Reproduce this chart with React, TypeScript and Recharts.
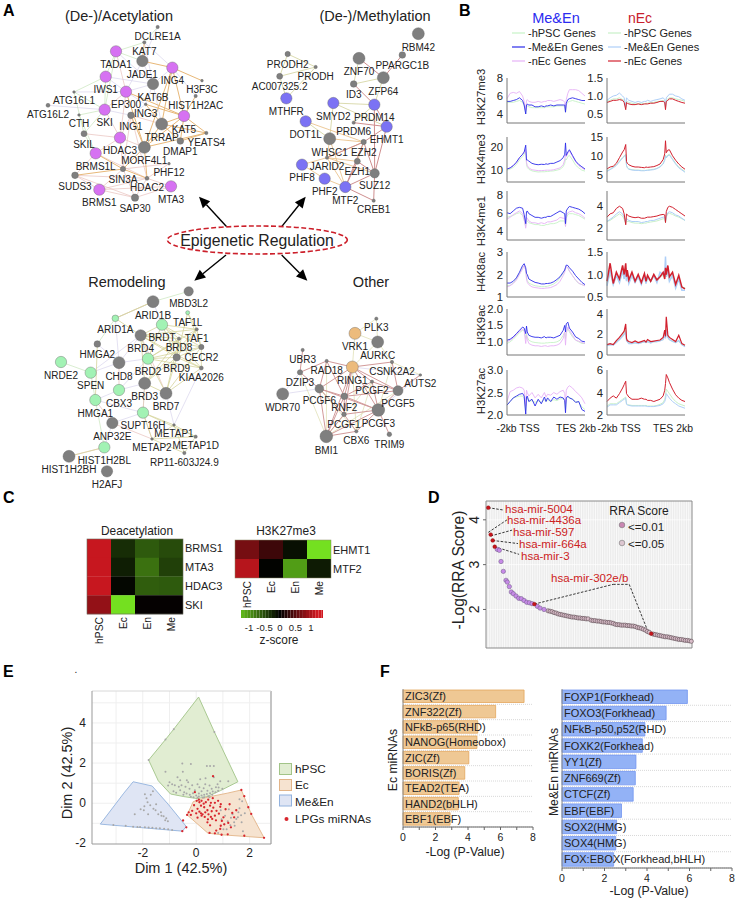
import React from 'react';
import {
    Bar,
    BarChart,
    CartesianGrid,
    Cell,
    LabelList,
    Line,
    LineChart,
    ReferenceArea,
    ReferenceDot,
    ReferenceLine,
    Scatter,
    ScatterChart,
    XAxis,
    YAxis,
} from 'recharts';

const sans = '"Liberation Sans", Arial, sans-serif';

// ---- panel A: networks, layout units of the picture, [name, x, y, weight, group]
type NetNode = [string, number, number, number, string];

const acetNodes: NetNode[] = [
    ['DCLRE1A', 473, 81, 5, 's'], ['KAT7', 433, 127, 5, 's'], ['TADA1', 348, 154, 17, 'm'], ['JADE1', 427, 183, 17, 'g'],
    ['ING4', 517, 203, 17, 'm'], ['KAT6B', 459, 252, 17, 'g'], ['H3F3C', 606, 242, 4, 's'], ['IWS1', 317, 230, 17, 'm'],
    ['EP300', 378, 275, 17, 'm'], ['HIST1H2AC', 587, 288, 5, 's'], ['ATG16L1', 222, 276, 4, 's'], ['ATG16L2', 144, 316, 6, 's'],
    ['SKI', 314, 329, 17, 'm'], ['ING3', 437, 313, 4, 's'], ['CTH', 237, 345, 4, 's'], ['ING1', 393, 346, 10, 'g'],
    ['KAT5', 552, 348, 17, 'm'], ['TRRAP', 485, 372, 18, 'g'], ['YEATS4', 619, 399, 5, 's'], ['SKIL', 252, 401, 9, 'g'],
    ['HDAC3', 360, 413, 17, 'm'], ['DMAP1', 541, 423, 10, 'g'], ['MORF4L1', 433, 442, 18, 'g'], ['BRMS1L', 287, 460, 17, 'm'],
    ['PHF12', 507, 491, 4, 's'], ['SIN3A', 369, 507, 8, 's'], ['SUDS3', 225, 526, 10, 'g'], ['HDAC2', 441, 535, 6, 's'],
    ['BRMS1', 298, 569, 17, 'm'], ['MTA3', 513, 559, 17, 'm'], ['SAP30', 405, 593, 11, 'g'],
];
const methNodes: NetNode[] = [
    ['RBM42', 1255, 101, 18, 'g'], ['PPARGC1B', 1207, 165, 10, 'g'], ['ZNF70', 1077, 175, 18, 'g'], ['ZFP64', 1150, 233, 18, 'g'],
    ['PRODH2', 863, 162, 8, 'g'], ['PRODH', 947, 201, 5, 's'], ['AC007325.2', 839, 229, 9, 'g'], ['ID3', 1061, 252, 10, 'g'],
    ['MTHFR', 859, 295, 17, 'b'], ['SMYD2', 1000, 309, 17, 'b'], ['PRDM14', 1123, 314, 17, 'b'], ['DOT1L', 917, 364, 17, 'b'],
    ['EHMT1', 1160, 380, 17, 'b'], ['PRDM6', 1061, 368, 5, 's'], ['WHSC1', 989, 416, 18, 'g'], ['EZH2', 1091, 426, 8, 'g'],
    ['JARID2', 981, 473, 5, 's'], ['EZH1', 1072, 484, 9, 'g'], ['PHF8', 906, 494, 17, 'b'], ['SUZ12', 1124, 520, 14, 'g'],
    ['PHF2', 974, 536, 17, 'b'], ['MTF2', 1036, 561, 17, 'b'], ['CREB1', 1121, 602, 5, 's'],
];
const remodelNodes: NetNode[] = [
    ['MBD3L2', 566, 184, 14, 'g'], ['ARID1B', 459, 215, 18, 'g'], ['TAF1L', 563, 248, 6, 't'], ['ARID1A', 346, 265, 10, 't'],
    ['BRDT', 486, 284, 17, 't'], ['TAF1', 590, 298, 5, 's'], ['BRD4', 422, 316, 17, 'g'], ['BRD8', 537, 326, 5, 's'],
    ['HMGA2', 292, 342, 10, 'g'], ['CECR2', 604, 351, 8, 'g'], ['BRD2', 444, 386, 17, 't'], ['BRD9', 530, 382, 11, 'g'],
    ['CHD8', 357, 398, 18, 'g'], ['KIAA2026', 604, 414, 6, 's'], ['NRDE2', 183, 396, 17, 't'], ['SPEN', 272, 428, 17, 't'],
    ['BRD3', 434, 460, 18, 'g'], ['CBX3', 357, 480, 17, 't'], ['BRD7', 498, 490, 18, 'g'], ['HMGA1', 286, 510, 17, 't'],
    ['SUPT16H', 429, 548, 17, 't'], ['ANP32E', 337, 579, 17, 'g'], ['METAP1', 522, 585, 4, 's'], ['METAP1D', 587, 620, 5, 's'],
    ['METAP2', 456, 627, 4, 's'], ['HIST1H2BL', 313, 652, 17, 't'], ['RP11-603J24.9', 553, 669, 5, 's'], ['HIST1H2BH', 207, 679, 18, 'g'],
    ['H2AFJ', 321, 724, 17, 'g'],
];
const otherNodes: NetNode[] = [
    ['PLK3', 1129, 266, 5, 's'], ['VRK1', 1065, 310, 18, 'o'], ['AURKC', 1133, 336, 18, 'g'], ['UBR3', 908, 360, 5, 's'],
    ['RAD18', 980, 393, 5, 's'], ['CSNK2A2', 1176, 396, 5, 's'], ['RING1', 1057, 411, 18, 'o'], ['PCGF2', 1116, 455, 5, 's'],
    ['AUTS2', 1261, 435, 4, 's'], ['DZIP3', 900, 427, 8, 'g'], ['PCGF6', 958, 476, 13, 'g'], ['WDR70', 848, 492, 18, 'g'],
    ['PCGF5', 1194, 482, 15, 'g'], ['RNF2', 1033, 499, 10, 'g'], ['PCGF3', 1135, 540, 19, 'g'], ['PCGF1', 1032, 553, 7, 'g'],
    ['CBX6', 1069, 604, 5, 's'], ['TRIM9', 1168, 613, 7, 'g'], ['BMI1', 979, 619, 19, 'g'],
];

const acetOrange = ['ING4>TRRAP', 'ING4>MORF4L1', 'ING4>KAT5', 'TRRAP>KAT5', 'TRRAP>MORF4L1', 'MORF4L1>KAT5', 'MORF4L1>YEATS4', 'KAT5>YEATS4', 'DMAP1>YEATS4', 'MORF4L1>SIN3A', 'MORF4L1>HDAC2', 'SIN3A>HDAC2', 'BRMS1L>SIN3A', 'SUDS3>SIN3A', 'EP300>KAT5', 'ING3>TRRAP', 'ING3>KAT5', 'KAT5>DMAP1', 'TRRAP>DMAP1', 'ING4>JADE1', 'KAT7>JADE1', 'ING4>H3F3C', 'TRRAP>YEATS4', 'HIST1H2AC>KAT5', 'EP300>MORF4L1', 'ING1>MORF4L1'];
const acetPink = ['SUDS3>BRMS1', 'SUDS3>HDAC2', 'BRMS1>SIN3A', 'BRMS1>HDAC2', 'BRMS1>SAP30', 'SAP30>HDAC2', 'SAP30>SIN3A', 'SUDS3>SAP30', 'BRMS1L>HDAC2', 'BRMS1L>SUDS3', 'HDAC2>PHF12', 'SIN3A>PHF12', 'HDAC3>BRMS1L', 'HDAC3>SIN3A', 'HDAC3>MORF4L1', 'SKIL>HDAC3', 'SKI>HDAC3', 'MTA3>HDAC2', 'MTA3>SAP30', 'TADA1>EP300', 'ING1>HDAC3', 'ING1>SIN3A', 'ING1>HDAC2', 'ING1>TRRAP', 'EP300>SKI', 'EP300>HDAC3', 'BRMS1>MTA3'];
const acetGreen = ['TADA1>IWS1', 'TADA1>SKI', 'IWS1>ATG16L1', 'ATG16L1>SKI', 'SKI>CTH', 'SKIL>BRMS1L', 'CTH>BRMS1L', 'SKI>SKIL', 'TADA1>JADE1', 'KAT7>TADA1', 'DCLRE1A>KAT7', 'ATG16L1>SKIL', 'IWS1>SKI'];
const acetPurple = ['ATG16L1>EP300', 'ATG16L2>SKI', 'ING3>KAT6B', 'KAT7>KAT6B', 'TADA1>KAT6B', 'JADE1>EP300', 'JADE1>KAT6B', 'ING4>KAT6B', 'IWS1>EP300', 'IWS1>KAT6B', 'EP300>KAT6B', 'HIST1H2AC>ING4', 'EP300>ING3', 'ING3>ING1', 'SKI>ING1', 'DCLRE1A>JADE1', 'KAT7>ING4', 'KAT6B>TRRAP'];

const methOlive = ['PRODH2>PRODH', 'PRODH2>AC007325.2', 'PRODH>AC007325.2', 'PRODH>MTHFR', 'AC007325.2>MTHFR', 'ZNF70>ID3', 'ZFP64>ID3', 'SMYD2>PRDM14', 'SMYD2>EHMT1', 'SMYD2>WHSC1', 'DOT1L>WHSC1', 'PRDM14>PRDM6', 'ZFP64>PRDM14'];
const methRed = ['ZNF70>ZFP64', 'PPARGC1B>ZFP64', 'ID3>PRDM14', 'PRDM14>EHMT1', 'EHMT1>EZH2', 'EHMT1>SUZ12', 'EZH2>SUZ12', 'EZH2>MTF2', 'SUZ12>MTF2', 'SUZ12>CREB1', 'MTF2>CREB1', 'EZH1>SUZ12', 'EZH1>MTF2', 'PRDM14>SUZ12', 'EZH2>JARID2', 'PRDM6>EHMT1'];
const methOrange = ['JARID2>MTF2', 'JARID2>EZH2', 'JARID2>EZH1', 'JARID2>SUZ12', 'PHF2>MTF2', 'EZH1>EZH2', 'MTF2>WHSC1', 'WHSC1>EZH2', 'WHSC1>JARID2', 'PHF8>PHF2', 'PHF8>JARID2', 'DOT1L>EZH2'];

const remodelOlive = ['BRDT>BRD4', 'BRDT>TAF1', 'BRDT>BRD8', 'BRDT>BRD2', 'BRDT>BRD9', 'BRDT>CECR2', 'BRDT>KIAA2026', 'BRD4>BRD8', 'BRD4>BRD2', 'BRD4>BRD9', 'BRD4>CECR2', 'BRD4>BRD3', 'BRD4>TAF1', 'BRD4>KIAA2026', 'BRD2>BRD8', 'BRD2>BRD9', 'BRD2>TAF1', 'BRD2>CECR2', 'BRD2>KIAA2026', 'BRD2>BRD7', 'BRD9>BRD8', 'BRD9>TAF1', 'BRD9>CECR2', 'BRD9>KIAA2026', 'BRD9>BRD7', 'BRD9>BRD3', 'BRD3>BRD8', 'BRD3>TAF1', 'BRD3>BRD7', 'BRD7>BRD8', 'BRD7>KIAA2026', 'BRD7>CECR2', 'TAF1L>TAF1', 'TAF1L>CECR2', 'TAF1L>BRD9', 'TAF1>CECR2', 'CECR2>KIAA2026', 'ARID1A>ARID1B', 'ARID1A>BRD4', 'SUPT16H>METAP1', 'SUPT16H>METAP1D', 'SUPT16H>METAP2', 'METAP1>METAP1D', 'METAP2>METAP1D', 'METAP2>RP11-603J24.9', 'METAP1D>RP11-603J24.9', 'METAP1>METAP2', 'METAP1>RP11-603J24.9', 'HMGA2>HMGA1', 'HIST1H2BL>HIST1H2BH'];
const remodelPurple = ['ARID1A>CHD8', 'HMGA2>CHD8', 'CHD8>BRD4', 'CHD8>BRD2', 'SPEN>CHD8', 'CBX3>BRD2', 'CBX3>BRD3', 'HMGA1>CBX3', 'HMGA1>SUPT16H', 'ANP32E>SUPT16H', 'BRD7>METAP1', 'KIAA2026>METAP1', 'ARID1B>BRDT', 'SPEN>BRD4', 'ANP32E>HIST1H2BL'];
const remodelGreen = ['NRDE2>SPEN', 'ARID1B>MBD3L2', 'ARID1A>HMGA2', 'SPEN>HMGA1', 'HMGA1>HIST1H2BL', 'ARID1B>ARID1A', 'BRD3>SUPT16H'];
const remodelPink = ['ARID1A>ARID1B', 'ANP32E>HMGA1', 'SUPT16H>METAP2', 'BRD4>BRD7', 'HIST1H2BH>HIST1H2BL', 'ANP32E>METAP2', 'CHD8>CBX3', 'BRD3>SUPT16H'];

const otherRed = ['UBR3>DZIP3', 'RAD18>PCGF6', 'RAD18>DZIP3', 'DZIP3>PCGF6', 'PCGF6>RING1', 'PCGF6>RNF2', 'PCGF6>PCGF3', 'PCGF6>BMI1', 'RING1>RNF2', 'RING1>PCGF5', 'RING1>PCGF3', 'RING1>PCGF2', 'RING1>PCGF1', 'RNF2>PCGF5', 'RNF2>PCGF3', 'RNF2>PCGF2', 'RNF2>PCGF1', 'RNF2>BMI1', 'PCGF5>PCGF3', 'PCGF5>CSNK2A2', 'PCGF5>PCGF2', 'PCGF3>PCGF1', 'PCGF3>BMI1', 'PCGF3>PCGF2', 'PCGF3>CBX6', 'PCGF3>TRIM9', 'BMI1>PCGF1', 'BMI1>RING1', 'BMI1>CBX6', 'PCGF1>CBX6', 'RING1>CSNK2A2', 'PCGF5>AUTS2', 'RAD18>RING1', 'RAD18>RNF2', 'PCGF1>PCGF6'];
const otherOlive = ['VRK1>PLK3', 'VRK1>AURKC', 'PLK3>AURKC', 'VRK1>RING1', 'AURKC>CSNK2A2', 'AURKC>RING1', 'CSNK2A2>AUTS2', 'PCGF6>PCGF1', 'RING1>CBX6', 'DZIP3>BMI1', 'PCGF2>BMI1', 'PCGF2>CBX6', 'PCGF5>BMI1', 'CSNK2A2>PCGF3', 'RAD18>BMI1', 'PCGF6>CBX6'];
const otherPurple = ['WDR70>PCGF6', 'WDR70>DZIP3', 'AUTS2>PCGF3', 'AUTS2>RING1'];

const nodeFill: Record<string, string> = { m: '#d672f2', g: '#7f7f7f', s: '#7f7f7f', b: '#7b72f4', t: '#a2f2b4', o: '#ecbb7c' };

// ---- panel B: profile x positions in percent of the gene body plot
const profileX = [0, 4, 8, 12, 16, 20, 22, 24, 25, 26, 28, 32, 36, 40, 44, 48, 50, 52, 56, 60, 64, 68, 72, 74, 75, 76, 78, 80, 84, 88, 92, 96, 100];

const k27me3LeftMe = [5.4, 5.4, 5.5, 5.6, 5.8, 5.5, 5.0, 4.0, 5.0, 5.1, 5.0, 5.0, 4.8, 4.8, 4.9, 4.8, 4.9, 4.9, 5.0, 4.9, 5.0, 5.0, 5.0, 5.0, 4.2, 5.2, 5.6, 5.7, 5.8, 5.7, 5.6, 5.5, 5.5];
const k27me3LeftNec = [5.7, 6.3, 6.4, 6.3, 6.5, 6.0, 5.4, 4.4, 5.5, 5.6, 5.4, 5.3, 5.3, 5.4, 5.3, 5.4, 5.4, 5.5, 5.5, 5.4, 5.5, 5.6, 5.5, 5.3, 4.5, 5.6, 6.3, 6.7, 6.7, 6.7, 6.6, 6.3, 6.0];
const k27me3LeftPsc = [5.3, 5.3, 5.3, 5.4, 5.5, 5.3, 4.9, 4.1, 4.9, 4.9, 4.8, 4.7, 4.7, 4.7, 4.7, 4.7, 4.8, 4.8, 4.8, 4.8, 4.9, 4.9, 4.9, 4.8, 4.2, 5.0, 5.3, 5.4, 5.5, 5.4, 5.3, 5.2, 5.1];
const k27me3RightPsc = [0.85, 0.88, 0.92, 0.92, 0.95, 0.9, 0.88, 0.68, 0.85, 0.85, 0.82, 0.8, 0.78, 0.78, 0.8, 0.78, 0.8, 0.8, 0.82, 0.82, 0.85, 0.85, 0.88, 0.85, 0.65, 0.88, 0.92, 0.95, 0.95, 0.92, 0.9, 0.88, 0.85];
const k27me3RightMe = [0.88, 0.95, 1.0, 1.02, 1.08, 1.0, 0.95, 0.7, 0.95, 0.92, 0.88, 0.85, 0.82, 0.85, 0.82, 0.85, 0.85, 0.88, 0.85, 0.88, 0.9, 0.92, 0.95, 0.9, 0.7, 0.95, 1.0, 1.05, 1.05, 1.0, 0.98, 0.92, 0.88];
const k27me3RightNec = [0.82, 0.85, 0.88, 0.88, 0.9, 0.88, 0.82, 0.62, 0.82, 0.8, 0.78, 0.76, 0.76, 0.78, 0.76, 0.78, 0.78, 0.78, 0.8, 0.8, 0.82, 0.85, 0.85, 0.82, 0.62, 0.85, 0.88, 0.92, 0.92, 0.88, 0.85, 0.82, 0.8];

const k4me3LeftMe = [10.5, 11, 12, 13.5, 15.5, 17, 18, 21, 14.5, 14.5, 14, 13, 12.6, 12.4, 12.6, 12.5, 12.8, 12.6, 13, 13, 13.6, 14.2, 15.5, 17, 22, 16.5, 18, 19, 16.5, 14, 12.5, 11.5, 10.5];
const k4me3LeftNec = [10.5, 11, 12, 13.2, 15.5, 17, 18, 19, 13.5, 12, 11, 10.2, 10, 9.8, 9.8, 9.9, 10, 10, 10, 10.2, 10.6, 11, 12.4, 14.5, 17, 16, 17.5, 18.5, 16, 13.8, 12, 11, 10.2];
const k4me3LeftPsc = [10, 10.5, 11.2, 12.5, 14.5, 16, 17, 18, 12.5, 11.2, 10.4, 9.7, 9.4, 9.2, 9.3, 9.3, 9.4, 9.4, 9.6, 9.7, 10, 10.4, 11.5, 13, 15, 14.5, 16, 16.5, 14.5, 12.2, 11, 10, 9.6];
const k4me3RightNec = [6.5, 7, 7.2, 8, 9.5, 11, 11.6, 13, 8.5, 8, 7.6, 7.2, 7, 7, 6.9, 6.8, 7, 6.9, 7, 7.1, 7.4, 7.8, 9, 10.5, 14, 10.8, 11.5, 11.6, 10, 8.8, 7.8, 7, 6.4];
const k4me3RightMe = [5.8, 6.3, 6.8, 7.4, 8.4, 9.4, 9.8, 10.2, 7.4, 6.8, 6.4, 6.2, 6.1, 6.1, 6, 6, 6.1, 6.1, 6.2, 6.3, 6.6, 7, 7.8, 8.8, 10, 9.4, 10, 10.2, 9, 7.8, 6.8, 6.2, 5.6];
const k4me3RightPsc = [6, 6.4, 7, 7.6, 8.6, 9.6, 10, 10.4, 7.4, 6.9, 6.5, 6.3, 6.2, 6.2, 6.1, 6.1, 6.1, 6.2, 6.3, 6.4, 6.6, 7.1, 8, 9, 10.2, 9.6, 10.2, 10.4, 9.2, 8, 7, 6.4, 5.8];

const k4me1LeftMe = [6, 5.9, 6.2, 6.5, 6.6, 6.5, 5.8, 4.8, 6.1, 6.2, 5.9, 5.7, 5.5, 5.5, 5.4, 5.5, 5.5, 5.6, 5.6, 5.8, 6, 6.2, 6, 5.9, 4.8, 6.2, 6.5, 6.7, 6.6, 6.5, 6.4, 6.2, 5.9];
const k4me1LeftNec = [5.3, 5.5, 5.8, 6, 6.2, 5.9, 5.3, 4.3, 5.5, 5.4, 5.1, 4.9, 4.9, 4.8, 4.9, 4.8, 4.9, 5, 5, 5.1, 5.2, 5.5, 5.4, 5.4, 4.5, 5.7, 6, 6.1, 6.2, 6, 5.9, 5.7, 5.4];
const k4me1LeftPsc = [5.5, 5.6, 5.7, 5.9, 6, 5.7, 5.2, 4.5, 5.2, 5.1, 4.9, 4.8, 4.7, 4.7, 4.6, 4.6, 4.7, 4.7, 4.8, 4.8, 4.9, 5.1, 5.1, 5.1, 4.5, 5.4, 5.8, 5.9, 5.9, 5.8, 5.7, 5.5, 5.3];
const k4me1RightNec = [3, 3.3, 3.4, 3.8, 4, 3.8, 3.3, 2.3, 3.3, 3.2, 3.1, 3, 2.95, 3, 2.9, 2.9, 2.95, 3, 3, 3.05, 3.1, 3.2, 3.25, 3.2, 2.5, 3.5, 3.9, 4, 3.9, 3.7, 3.5, 3.3, 3.1];
const k4me1RightMe = [2.6, 2.8, 3, 3.3, 3.5, 3.3, 3, 2.5, 2.9, 2.8, 2.7, 2.6, 2.6, 2.6, 2.5, 2.55, 2.6, 2.6, 2.7, 2.7, 2.8, 2.9, 3, 3, 2.6, 3.1, 3.4, 3.5, 3.4, 3.2, 3.1, 2.9, 2.7];
const k4me1RightPsc = [2.6, 2.7, 2.9, 3.1, 3.3, 3.1, 2.8, 2.4, 2.7, 2.6, 2.6, 2.5, 2.45, 2.45, 2.4, 2.45, 2.45, 2.5, 2.55, 2.6, 2.65, 2.75, 2.85, 2.85, 2.5, 3, 3.3, 3.35, 3.25, 3.1, 3, 2.85, 2.7];

const k8acLeftMe = [1.62, 1.62, 1.7, 1.85, 2.1, 2.4, 2.48, 2.3, 2.05, 2, 1.8, 1.72, 1.65, 1.62, 1.58, 1.58, 1.6, 1.6, 1.62, 1.68, 1.78, 1.9, 2.1, 2.2, 2.32, 2.42, 2.4, 2.3, 2.15, 1.95, 1.8, 1.65, 1.55];
const k8acLeftNec = [1.45, 1.5, 1.6, 1.75, 2, 2.25, 2.4, 2.2, 1.8, 1.65, 1.55, 1.45, 1.42, 1.4, 1.38, 1.38, 1.4, 1.4, 1.42, 1.48, 1.55, 1.7, 1.95, 2.1, 2.25, 2.35, 2.3, 2.15, 1.95, 1.75, 1.62, 1.55, 1.5];
const k8acLeftPsc = [1.5, 1.52, 1.62, 1.8, 2.05, 2.3, 2.4, 2.2, 1.85, 1.72, 1.62, 1.55, 1.5, 1.48, 1.46, 1.46, 1.47, 1.48, 1.52, 1.58, 1.68, 1.85, 2.05, 2.2, 2.3, 2.35, 2.3, 2.15, 1.95, 1.75, 1.6, 1.55, 1.5];
const k8acRightNec = [0.85, 1.25, 0.8, 1.05, 0.9, 1.2, 1, 1.25, 0.95, 1.1, 0.88, 1.05, 0.85, 1.0, 0.82, 1.02, 0.85, 0.98, 0.85, 1.0, 0.88, 0.95, 1.05, 0.9, 1.15, 1.0, 1.2, 0.95, 1.05, 0.78, 0.98, 0.72, 0.68];
const k8acRightMe = [0.75, 1.1, 0.78, 0.98, 0.82, 1.1, 0.9, 1.15, 0.85, 1.05, 0.8, 0.98, 0.82, 0.95, 0.78, 0.98, 0.8, 0.95, 0.85, 0.98, 0.82, 1.05, 1.0, 1.0, 1.4, 0.95, 1.15, 0.85, 0.98, 0.7, 0.9, 0.65, 0.65];
const k8acRightPsc = [0.8, 1.05, 0.8, 0.98, 0.85, 1.05, 0.92, 1.1, 0.88, 1.0, 0.84, 0.96, 0.84, 0.94, 0.82, 0.95, 0.84, 0.93, 0.85, 0.96, 0.86, 0.96, 0.98, 0.95, 1.1, 0.95, 1.05, 0.88, 0.98, 0.76, 0.9, 0.72, 0.7];

const k9acLeftMe = [1.05, 1.08, 1.15, 1.25, 1.35, 1.45, 1.42, 1.25, 1.48, 1.3, 1.2, 1.16, 1.14, 1.14, 1.12, 1.16, 1.12, 1.14, 1.14, 1.12, 1.16, 1.2, 1.35, 1.5, 1.3, 1.55, 1.6, 1.42, 1.3, 1.15, 1.1, 1.02, 1.0];
const k9acLeftNec = [1.0, 1.05, 1.12, 1.22, 1.32, 1.38, 1.35, 0.95, 1.2, 1.08, 0.95, 0.9, 0.88, 0.88, 0.86, 0.88, 0.88, 0.86, 0.88, 0.88, 0.9, 0.95, 1.1, 1.3, 0.9, 1.25, 1.45, 1.35, 1.2, 1.05, 1.02, 0.98, 0.95];
const k9acLeftPsc = [0.95, 1.0, 1.08, 1.18, 1.28, 1.35, 1.35, 1.1, 1.25, 1.15, 1.05, 1, 0.98, 0.97, 0.96, 0.96, 0.97, 0.97, 0.98, 0.98, 1, 1.05, 1.2, 1.3, 1.1, 1.3, 1.4, 1.3, 1.15, 1.05, 1, 0.95, 0.95];
const k9acRightNec = [1.0, 1.1, 1.0, 1.4, 1.7, 2.1, 2.3, 3.0, 1.6, 1.4, 1.3, 1.2, 1.35, 1.2, 1.3, 1.4, 1.25, 1.5, 1.3, 1.35, 1.4, 1.45, 1.7, 2.4, 1.8, 3.7, 1.9, 1.7, 1.5, 1.3, 1.9, 1.1, 0.95];
const k9acRightMe = [0.9, 1, 0.95, 1.2, 1.5, 1.8, 2, 2.2, 1.4, 1.3, 1.1, 1.1, 1.2, 1.1, 1.2, 1.3, 1.2, 1.3, 1.15, 1.3, 1.3, 1.35, 1.5, 1.9, 1.6, 2.4, 1.7, 1.5, 1.3, 1.2, 1.4, 1, 0.8];
const k9acRightPsc = [0.95, 1, 1, 1.3, 1.5, 1.9, 2.1, 2.4, 1.5, 1.3, 1.2, 1.15, 1.2, 1.15, 1.2, 1.3, 1.2, 1.3, 1.2, 1.3, 1.3, 1.4, 1.5, 2, 1.7, 2.5, 1.8, 1.5, 1.35, 1.2, 1.4, 1, 0.9];

const k27acLeftMe = [2.22, 2.3, 2.38, 2.42, 2.46, 2.48, 2.42, 2.02, 2.4, 2.42, 2.3, 2.35, 2.2, 2.35, 2.25, 2.4, 2.3, 2.38, 2.3, 2.4, 2.35, 2.4, 2.38, 2.32, 2.05, 2.38, 2.42, 2.38, 2.35, 2.28, 2.3, 2.12, 2.08];
const k27acLeftNec = [2.3, 2.52, 2.55, 2.6, 2.62, 2.6, 2.55, 2.2, 2.55, 2.5, 2.42, 2.5, 2.38, 2.46, 2.38, 2.5, 2.4, 2.46, 2.44, 2.5, 2.46, 2.52, 2.55, 2.48, 2.25, 2.55, 2.62, 2.65, 2.6, 2.52, 2.46, 2.38, 2.25];
const k27acLeftPsc = [2.22, 2.3, 2.38, 2.4, 2.42, 2.42, 2.38, 2.1, 2.36, 2.38, 2.3, 2.32, 2.28, 2.32, 2.28, 2.34, 2.3, 2.34, 2.3, 2.34, 2.32, 2.36, 2.36, 2.32, 2.12, 2.36, 2.4, 2.38, 2.36, 2.3, 2.28, 2.18, 2.12];
const k27acRightNec = [3.2, 3.5, 3.7, 3.5, 3.9, 4.4, 4.7, 5.0, 3.9, 3.8, 3.6, 3.4, 3.4, 3.4, 3.5, 3.4, 3.4, 3.3, 3.3, 3.2, 3.3, 3.4, 3.7, 4.2, 4.8, 5.6, 5.3, 4.9, 4.3, 3.8, 3.5, 3.3, 3.2];
const k27acRightPsc = [2.8, 3, 3, 3, 3.2, 3.4, 3.5, 3.6, 3, 2.95, 2.9, 2.85, 2.85, 2.85, 2.85, 2.85, 2.85, 2.8, 2.8, 2.8, 2.85, 2.95, 3.1, 3.4, 3.7, 4.3, 4.1, 3.9, 3.5, 3.2, 3, 2.9, 2.8];
const k27acRightMe = [2.7, 2.9, 2.9, 2.9, 3.1, 3.3, 3.4, 3.5, 2.95, 2.9, 2.85, 2.8, 2.8, 2.8, 2.8, 2.8, 2.8, 2.75, 2.75, 2.75, 2.8, 2.85, 3, 3.2, 3.4, 3.9, 3.7, 3.5, 3.2, 3, 2.8, 2.7, 2.6];

// ---- panel C
const heatColumns = ['hPSC', 'Ec', 'En', 'Me'];
const deacetGenes = ['BRMS1', 'MTA3', 'HDAC3', 'SKI'];
const deacetZ = [
    [1.15, -0.3, -0.6, -0.5],
    [1.15, -0.2, -0.76, -0.43],
    [1.15, -0.05, -0.62, -0.6],
    [0.85, -1.5, 0.03, 0.03],
];
const k27Genes = ['EHMT1', 'MTF2'];
const k27Z = [
    [0.68, 0.35, -0.1, -1.5],
    [1.05, -0.02, -1.05, -0.18],
];
const scaleTicks = [-1, -0.5, 0, 0.5, 1];
const scaleSteps = [-1.26, -1.16, -1.06, -0.96, -0.86, -0.76, -0.66, -0.56, -0.46, -0.36, -0.26, -0.16, -0.06, 0.04, 0.14, 0.24, 0.34, 0.44, 0.54, 0.64, 0.74, 0.84, 0.94, 1.04, 1.14, 1.24, 1.34];

// ---- panel D
const rraRankHigh = [11.3, 13.3, 15, 17.3, 20, 21.3, 23.3, 25.3, 27.3, 30, 32.7, 35.3, 38, 40.7, 43.3, 46, 51.3, 54, 58];
const rraScoreHigh = [3.34, 3.32, 3.07, 2.85, 2.65, 2.61, 2.51, 2.39, 2.35, 2.3, 2.25, 2.24, 2.2, 2.16, 2.15, 2.13, 2.07, 2.03, 2.0];
const rraRankLow = [62, 64, 66, 68, 70, 72, 74, 76, 78, 80, 82, 84, 86, 88, 90, 92, 94, 96, 98, 100, 102, 105, 107, 109, 111, 113, 115, 117, 119, 121, 123, 125, 127, 129, 131, 133, 135, 137, 139, 141, 143, 145, 147, 149, 151, 153, 155, 157, 159, 161, 163, 167, 169, 171, 173, 175, 177, 179, 181, 183, 185, 187, 189, 191, 193, 195, 197, 199, 201, 203, 205];
const rraScoreLow = [1.97, 1.96, 1.95, 1.93, 1.92, 1.9, 1.89, 1.88, 1.87, 1.86, 1.85, 1.84, 1.83, 1.83, 1.82, 1.81, 1.81, 1.8, 1.8, 1.79, 1.79, 1.76, 1.75, 1.75, 1.74, 1.74, 1.73, 1.72, 1.72, 1.71, 1.71, 1.7, 1.69, 1.67, 1.66, 1.66, 1.65, 1.65, 1.65, 1.64, 1.64, 1.63, 1.63, 1.62, 1.6, 1.59, 1.58, 1.56, 1.54, 1.51, 1.49, 1.45, 1.44, 1.43, 1.42, 1.41, 1.4, 1.39, 1.39, 1.38, 1.37, 1.36, 1.35, 1.34, 1.33, 1.33, 1.32, 1.31, 1.31, 1.3, 1.29];
const rraRankHit = [2.3, 4.7, 6.7, 8.7, 48.3, 165];
const rraScoreHit = [4.27, 3.67, 3.54, 3.4, 2.12, 1.46];
const rraLeaders = [
    [2.3, 4.27, 17, 4.22],
    [2.3, 3.72, 21, 4.0],
    [4.7, 3.64, 26, 3.77],
    [6.7, 3.54, 32, 3.47],
    [8.7, 3.4, 33, 3.23],
    [48.3, 2.12, 127, 2.56],
    [127, 2.56, 143, 2.56],
    [143, 2.56, 161, 1.55],
];

// ---- panel E
const hpscHullX = [0.09, 0.68, 1.56, 0.91, 0.41, 0.04, -0.46, -0.96, -1.42, -1.78, -1.15, -0.84, 0.09];
const hpscHullY = [5.29, 3.55, 1.07, 0.63, 0.33, 0.23, 0.33, 0.46, 1.12, 2.15, 3.17, 3.69, 5.29];
const ecHullX = [1.69, 2.06, 2.54, 0.94, 0.44, -0.34, -0.11, 0.41, 1.16, 1.69];
const ecHullY = [0.66, -0.53, -1.72, -1.57, -1.49, -0.58, 0.08, 0.3, 0.5, 0.66];
const meHullX = [-2.36, -1.65, -1.03, -0.37, -0.52, -1.84, -3.59, -2.71, -2.36];
const meHullY = [1.07, 0.86, -0.08, -1.16, -1.39, -1.24, -1.04, 0.5, 1.07];

const grayDim1 = [
    -0.52, -0.2, -0.5, -1.15, 0.4, 0.52, 0.66, 0.9, 1.2, -0.9, -0.8, -0.7, -0.6, -0.55, -0.45, -0.4, -0.35, -0.25, -0.15, -0.05, 0.05, 0.12, 0.2, 0.28, 0.34, 0.42, 0.5, 0.58, 0.66, 0.74, 0.82,
    -1.0, -0.75, -0.6, -0.48, -0.36, -0.24, -0.12, 0, 0.1, 0.2, 0.3, 0.4, 0.52, 0.62, 0.72, 0.84, 0.98, -1.05, -0.3, 0.15, 0.35, -0.1, 0.25, 0.45, 0.05, -0.2, 0.6, 0.8, 0.1, 0.3, 0.5, -0.85, -0.65,
    -1.15, -0.84, 0.68, -1.78,
    -1.92, -1.86, -1.82, -1.7, -1.62, -2.08, -1.94, -1.8, -1.72, -1.6, -1.5, -1.42, -1.32, -1.22, -1.12, -1.06, -2.3, -1.96, -1.52, -1.3, -1.16, -2.64, -2.36, -2.2, -2.1, -1.92, -1.78, -1.64, -1.5, -1.36, -1.2, -1.05, -0.9, -3.1,
    0.82, 0.95, 1.08, 1.22, 1.36, 1.5, 1.62, 1.72, 1.42, 1.56, 1.7, 1.82, 0.92, 1.05, 1.18, 1.3, 1.44, 1.58, 1.68, 1.02, 1.14, 1.28, 1.62, 1.75,
];
const grayDim2 = [
    1.98, 1.95, 1.57, 1.57, 1.85, 1.85, 1.85, 1.1, 1.1, 0.95, 0.9, 1.3, 1.15, 0.9, 0.55, 0.82, 1.15, 0.72, 0.9, 0.65, 0.95, 0.8, 0.6, 0.75, 0.95, 0.62, 0.88, 0.72, 1.3, 0.8, 0.62,
    1.05, 0.52, 0.65, 0.42, 0.48, 0.42, 0.5, 0.38, 0.48, 0.38, 0.42, 0.46, 0.5, 0.58, 0.55, 0.78, 0.72, 0.88, 1.05, 1.2, 1.25, 0.3, 0.28, 0.35, 0.28, 0.32, 0.42, 0.95, 0.34, 0.3, 0.3, 0.6, 0.82,
    3.17, 3.69, 3.55, 2.15,
    0.45, 0.25, 0.05, 0.42, 0.6, -0.3, -0.15, -0.55, -0.1, -0.28, -0.05, -0.55, -0.45, -0.65, -0.75, -0.9, -0.55, -0.35, -0.35, -0.62, -0.85, -1.12, -1.17, -1.18, -1.18, -1.2, -1.21, -1.22, -1.24, -1.25, -1.27, -1.3, -1.33, -1.08,
    -1.48, -0.8, -0.62, -0.3, -0.55, -0.78, -0.25, 0.1, -0.95, -0.7, -0.95, -0.5, -0.35, -1.05, -0.9, -0.72, -1.12, -0.45, -0.6, -1.3, -1.3, -1.1, 0.2, -1.4,
];
const redDim1 = [
    0.63, -0.05, 0.02, 0.12, 0.2, 0.28, 0.36, 0.45, 0.55, 0.62, 0.7, 0.82, 0.92, -0.08, 0.05, 0.18, 0.3, 0.42, 0.52, 0.64, 0.76, 0.9, 1.1, 1.25, -0.15, 0, 0.12, 0.24, 0.34, 0.46, 0.58, 0.7, 0.85, 1.02, 1.35, -0.2, 0.05, 0.2, 0.32, 0.44, 0.6, 0.74, 0.96, 1.2, -0.28, 0.18, 0.42, 0.55, 0.92, 1.05, 1.42, 0.1, 0.52, 1.3, 1.5,
    -0.49, -0.37, -0.52, 2.54, 2.06, 1.69, 1.8, 1.95, 0.5, 0.7, 0.95, 1.18, 1.8, -0.34, 0.9, 0.75,
];
const redDim2 = [
    1.35, 0.55, 0.12, 0.05, 0.12, -0.02, 0.05, 0.18, 0.02, 0.25, 0.02, 0.12, -0.05, -0.1, -0.28, -0.12, -0.2, -0.35, -0.12, -0.22, -0.38, -0.18, -0.3, -0.05, -0.38, -0.5, -0.42, -0.55, -0.45, -0.55, -0.4, -0.62, -0.52, -0.7, -0.48, -0.58, -0.72, -0.62, -0.68, -0.8, -0.78, -0.85, -0.88, -0.98, -0.45, -0.5, -0.95, -0.68, -1.12, -1.05, -0.7, 0.18, -1.1, -1.2, -0.35,
    -0.86, -1.2, -1.39, -1.72, -0.53, 0.66, 0.35, -0.2, -1.48, -1.5, -1.57, -1.55, -1.62, -0.58, -1.28, -1.36,
];

// ---- panel F
const ecTfNames = ['ZIC3(Zf)', 'ZNF322(Zf)', 'NFkB-p65(RHD)', 'NANOG(Homeobox)', 'ZIC(Zf)', 'BORIS(Zf)', 'TEAD2(TEA)', 'HAND2(bHLH)', 'EBF1(EBF)'];
const ecTfValues = [7.45, 5.7, 4.6, 4.55, 4.05, 3.8, 3.45, 3.4, 2.9];
const meTfNames = ['FOXP1(Forkhead)', 'FOXO3(Forkhead)', 'NFkB-p50,p52(RHD)', 'FOXK2(Forkhead)', 'YY1(Zf)', 'ZNF669(Zf)', 'CTCF(Zf)', 'EBF(EBF)', 'SOX2(HMG)', 'SOX4(HMG)', 'FOX:EBOX(Forkhead,bHLH)'];
const meTfValues = [5.9, 4.9, 3.9, 3.78, 3.48, 3.45, 3.35, 2.8, 2.57, 2.53, 2.43];
const pValueTicks = [0, 1, 2, 3, 4, 5, 6, 7, 8];

const zip = (xs: number[], ys: number[]) => xs.map((x, i) => ({ x, y: ys[i] }));

const zColor = (z: number) => {
    const t = Math.min(Math.abs(z) / (z >= 0 ? 1.2 : 1.5), 1);
    const c = z >= 0 ? [208, 24, 32] : [116, 224, 32];
    return `rgb(${c.map((v) => Math.round(v * t)).join(',')})`;
};

const T = ({ x, y, size = 10, anchor = 'middle', fill = '#222', rotate, weight, children }: any) => (
    <text
        x={x}
        y={y}
        fontSize={size}
        fontFamily={sans}
        fontWeight={weight}
        textAnchor={anchor}
        dominantBaseline="central"
        fill={fill}
        transform={rotate ? `rotate(${rotate} ${x} ${y})` : undefined}
    >
        {children}
    </text>
);

const box = (left: number, top: number): React.CSSProperties => ({ position: 'absolute', left, top });

type EdgeGroup = { edges: string[]; stroke: string; width: number };

const edgeLines = (nodes: NetNode[], groups: EdgeGroup[]) => {
    const at = new Map(nodes.map((n) => [n[0], n]));
    return groups.flatMap((g, gi) =>
        g.edges.map((e, i) => {
            const [a, b] = e.split('>');
            const p = at.get(a)!;
            const q = at.get(b)!;
            return (
                <ReferenceLine
                    key={`${gi}-${i}-${e}`}
                    segment={[{ x: p[1], y: p[2] }, { x: q[1], y: q[2] }]}
                    stroke={g.stroke}
                    strokeWidth={g.width}
                    ifOverflow="visible"
                />
            );
        }),
    );
};

const arrowShape = (p: any) => {
    const { x1, y1, x2, y2 } = p;
    const a = Math.atan2(y2 - y1, x2 - x1);
    const len = 11;
    const w = 5;
    const bx = x2 - len * Math.cos(a);
    const by = y2 - len * Math.sin(a);
    const px = -Math.sin(a) * w;
    const py = Math.cos(a) * w;
    return (
        <g>
            <line x1={x1} y1={y1} x2={bx} y2={by} stroke="#000" strokeWidth={1.4} />
            <polygon points={`${x2},${y2} ${bx + px},${by + py} ${bx - px},${by - py}`} fill="#000" />
        </g>
    );
};

const nodeShape = (p: any) => {
    const d = p.payload;
    return <circle cx={p.cx} cy={p.cy} r={d.r / 3} fill={nodeFill[d.group]} stroke="#666" strokeWidth={0.4} />;
};
const nodeLabel = (p: any) => {
    const d = p.payload;
    return <T x={p.cx} y={p.cy + d.r / 3 + 7.5} size={10}>{d.name}</T>;
};

const NetworkChart = ({ nodes, groups, top, height, yMin, yMax, children }: any) => {
    const data = nodes.map((n: NetNode) => ({ name: n[0], x: n[1], y: n[2], r: n[3], group: n[4] }));
    return (
        <div style={box(0, top)}>
            <ScatterChart width={450} height={height} margin={{ top: 0, right: 0, bottom: 0, left: 0 }}>
                <XAxis type="number" dataKey="x" domain={[0, 1350]} hide />
                <YAxis type="number" dataKey="y" domain={[yMin, yMax]} reversed hide />
                {edgeLines(nodes, groups)}
                <Scatter data={data} shape={nodeShape} isAnimationActive={false} />
                <Scatter data={data} shape={nodeLabel} isAnimationActive={false} />
                {children}
            </ScatterChart>
        </div>
    );
};

// one small profile plot of panel B
const Profile = ({ left, top, w, h, domain, ticks, series }: any) => {
    const data = profileX.map((x, i) => {
        const row: Record<string, number> = { x };
        series.forEach((s: any, k: number) => {
            row[`s${k}`] = s.values[i];
        });
        return row;
    });
    const decimals = ticks.some((t: number) => t % 1 !== 0);
    return (
        <div style={box(left - 24, top - 6)}>
            <LineChart width={w + 26} height={h + 12} data={data} margin={{ top: 6, right: 2, bottom: 0, left: 0 }}>
                <XAxis
                    type="number"
                    dataKey="x"
                    domain={[0, 100]}
                    ticks={[24, 50, 76]}
                    tick={false}
                    tickSize={2}
                    height={6}
                    stroke="#777"
                />
                <YAxis
                    type="number"
                    domain={domain}
                    ticks={ticks}
                    width={24}
                    allowDataOverflow
                    tickLine={false}
                    tickSize={0}
                    tickMargin={0}
                    stroke="#777"
                    interval={0}
                    tick={(p: any) => (
                        <T x={p.x - 4} y={p.y} size={11.3} anchor="end">
                            {decimals ? p.payload.value.toFixed(1) : p.payload.value}
                        </T>
                    )}
                />
                {series.map((s: any, k: number) => (
                    <Line
                        key={k}
                        dataKey={`s${k}`}
                        stroke={s.color}
                        strokeWidth={s.width ?? 0.9}
                        dot={false}
                        isAnimationActive={false}
                    />
                ))}
            </LineChart>
        </div>
    );
};

const pscL = '#c6f3c6';
const meL = '#2b2bea';
const necL = '#e6b2f6';
const pscR = '#c8f0c8';
const meR = '#aecff8';
const necR = '#d2202e';

const leftSeries = (psc: number[], nec: number[], me: number[]) => [
    { values: psc, color: pscL },
    { values: nec, color: necL },
    { values: me, color: meL },
];
const rightSeries = (psc: number[], me: number[], nec: number[], width = 1) => [
    { values: psc, color: pscR, width },
    { values: me, color: meR, width },
    { values: nec, color: necR, width },
];

const profileRows = [
    { name: 'H3K27me3', top: 78, h: 45, labelY: 97, ld: [3, 8], lt: [4, 6, 8], l: leftSeries(k27me3LeftPsc, k27me3LeftNec, k27me3LeftMe), rd: [0.25, 1.5], rt: [0.5, 1.0, 1.5], r: rightSeries(k27me3RightPsc, k27me3RightMe, k27me3RightNec) },
    { name: 'H3K4me3', top: 137, h: 45, labelY: 159, ld: [4.8, 24.6], lt: [10, 20], l: leftSeries(k4me3LeftPsc, k4me3LeftNec, k4me3LeftMe), rd: [3, 15], rt: [5, 10, 15], r: rightSeries(k4me3RightPsc, k4me3RightMe, k4me3RightNec) },
    { name: 'H3K4me1', top: 191, h: 49, labelY: 221, ld: [3, 8.4], lt: [4, 6, 8], l: leftSeries(k4me1LeftPsc, k4me1LeftNec, k4me1LeftMe), rd: [0.9, 5.4], rt: [2, 4], r: rightSeries(k4me1RightPsc, k4me1RightMe, k4me1RightNec) },
    { name: 'H4K8ac', top: 252, h: 45, labelY: 272, ld: [1, 3], lt: [1, 2, 3], l: leftSeries(k8acLeftPsc, k8acLeftNec, k8acLeftMe), rd: [0.5, 1.5], rt: [0.5, 1.0, 1.5], r: rightSeries(k8acRightPsc, k8acRightMe, k8acRightNec, 1.5) },
    { name: 'H3K9ac', top: 309, h: 46, labelY: 325, ld: [0.6, 2], lt: [1.0, 1.5, 2.0], l: leftSeries(k9acLeftPsc, k9acLeftNec, k9acLeftMe), rd: [0, 4.45], rt: [0, 2, 4], r: rightSeries(k9acRightPsc, k9acRightMe, k9acRightNec, 1.2) },
    { name: 'H3K27ac', top: 370, h: 45, labelY: 391, ld: [2, 3], lt: [2.0, 2.5, 3.0], l: leftSeries(k27acLeftPsc, k27acLeftNec, k27acLeftMe), rd: [2, 6], rt: [2, 4, 6], r: rightSeries(k27acRightPsc, k27acRightMe, k27acRightNec) },
];

// heat map drawn as stacked unit bars
const Heat = ({ left: x, top, h, genes, z }: any) => {
    const rows = genes.map((gene: string) => ({ gene, hPSC: 1, Ec: 1, En: 1, Me: 1 }));
    return (
        <div style={box(x, top)}>
            <BarChart
                layout="vertical"
                width={96 + 50}
                height={h + 34}
                data={rows}
                barCategoryGap={0}
                margin={{ top: 0, right: 0, bottom: 0, left: 0 }}
            >
                <XAxis
                    type="number"
                    domain={[0, 4]}
                    ticks={[0.5, 1.5, 2.5, 3.5]}
                    height={34}
                    axisLine={false}
                    tickLine={false}
                    tickSize={0}
                    tickMargin={0}
                    interval={0}
                    tick={(p: any) => (
                        <T x={p.x} y={p.y + 3} size={10.3} rotate={-90} anchor="end">
                            {heatColumns[Math.floor(p.payload.value)]}
                        </T>
                    )}
                />
                <YAxis
                    type="category"
                    dataKey="gene"
                    orientation="right"
                    width={50}
                    axisLine={false}
                    tickLine={false}
                    tickSize={0}
                    tickMargin={0}
                    interval={0}
                    tick={(p: any) => <T x={p.x + 2} y={p.y} size={11} anchor="start">{p.payload.value}</T>}
                />
                {heatColumns.map((col, j) => (
                    <Bar key={col} dataKey={col} stackId="heat" isAnimationActive={false}>
                        {genes.map((g: string, i: number) => (
                            <Cell key={g} fill={zColor(z[i][j])} />
                        ))}
                    </Bar>
                ))}
            </BarChart>
        </div>
    );
};

// bars of panel F
const TfBars = ({ left: x, top, w, h, names, values, fill, stroke, barSize }: any) => {
    const data = names.map((name: string, i: number) => ({ name, value: values[i] }));
    return (
        <div style={box(x - 5, top)}>
            <BarChart
                layout="vertical"
                width={w + 5 + 8}
                height={h + 24}
                data={data}
                barSize={barSize}
                margin={{ top: 0, right: 8, bottom: 0, left: 0 }}
            >
                <CartesianGrid
                    vertical={false}
                    stroke="#d8d8d8"
                    strokeDasharray="1 1"
                    horizontalCoordinatesGenerator={() => names.map((_: string, i: number) => ((i + 1) * h) / names.length)}
                />
                <XAxis
                    type="number"
                    dataKey="value"
                    domain={[0, 8]}
                    ticks={pValueTicks}
                    interval={0}
                    height={24}
                    stroke="#666"
                    tickSize={3}
                    tickMargin={1}
                    tick={(p: any) => (
                        <T x={p.x} y={p.y + 6} size={10.5}>
                            {p.payload.value % 2 === 0 ? p.payload.value : ''}
                        </T>
                    )}
                />
                <YAxis type="category" dataKey="name" width={5} tick={false} tickLine={false} stroke="#888" />
                <Bar dataKey="value" fill={fill} stroke={stroke} strokeWidth={0.8} isAnimationActive={false}>
                    <LabelList
                        dataKey="name"
                        content={(p: any) => (
                            <T x={p.x + 2} y={p.y + p.height / 2} size={11} anchor="start">{p.value}</T>
                        )}
                    />
                </Bar>
            </BarChart>
        </div>
    );
};

// white stripes of the panel D background, every 2.33 px of the plot
const dStripes = Array.from({ length: 89 }, (_, i) => 30 + i * 2.33);

const App = () => (
    <div style={{ position: 'absolute', left: 0, top: 0, width: 736, height: 899, background: '#fff', overflow: 'hidden' }}>
        {/* panel A */}
        <NetworkChart
            nodes={[...acetNodes, ...methNodes]}
            groups={[
                { edges: acetPurple, stroke: '#d2cdea', width: 0.6 },
                { edges: acetGreen, stroke: '#bfe0b0', width: 0.6 },
                { edges: acetPink, stroke: '#e8c0bc', width: 0.7 },
                { edges: acetOrange, stroke: '#e8b878', width: 1 },
                { edges: methOlive, stroke: '#d2d29a', width: 0.8 },
                { edges: methOrange, stroke: '#e8bc80', width: 0.8 },
                { edges: methRed, stroke: '#cf8f8f', width: 1 },
            ]}
            top={0}
            height={240}
            yMin={0}
            yMax={720}
        >
            <ReferenceLine segment={[{ x: 680, y: 680 }, { x: 597, y: 590 }]} shape={arrowShape} ifOverflow="visible" />
            <ReferenceLine segment={[{ x: 845, y: 680 }, { x: 917, y: 590 }]} shape={arrowShape} ifOverflow="visible" />
        </NetworkChart>
        <NetworkChart
            nodes={[...remodelNodes, ...otherNodes]}
            groups={[
                { edges: remodelPurple, stroke: '#d2cdea', width: 0.6 },
                { edges: remodelGreen, stroke: '#c0e0b0', width: 0.6 },
                { edges: remodelPink, stroke: '#e8c0bc', width: 0.7 },
                { edges: remodelOlive, stroke: '#d6d49c', width: 0.8 },
                { edges: otherPurple, stroke: '#d2cdea', width: 0.6 },
                { edges: otherOlive, stroke: '#dcdcae', width: 0.7 },
                { edges: otherRed, stroke: '#d29a9a', width: 1 },
            ]}
            top={220}
            height={270}
            yMin={-30}
            yMax={780}
        >
            <ReferenceDot
                x={772}
                y={30}
                r={14}
                ifOverflow="visible"
                shape={(p: any) => (
                    <ellipse cx={p.cx} cy={p.cy} rx={90} ry={14} fill="#fff" stroke="#cc1f2a" strokeWidth={1.6} strokeDasharray="5 2.5" />
                )}
            />
            <ReferenceLine segment={[{ x: 678, y: 75 }, { x: 583, y: 152 }]} shape={arrowShape} ifOverflow="visible" />
            <ReferenceLine segment={[{ x: 845, y: 75 }, { x: 922, y: 152 }]} shape={arrowShape} ifOverflow="visible" />
        </NetworkChart>

        {/* panel B */}
        {profileRows.map((row) => (
            <React.Fragment key={row.name}>
                <Profile left={507} top={row.top} w={78} h={row.h} domain={row.ld} ticks={row.lt} series={row.l} />
                <Profile left={607} top={row.top} w={78} h={row.h} domain={row.rd} ticks={row.rt} series={row.r} />
            </React.Fragment>
        ))}

        {/* panel C */}
        <Heat left={87} top={539} h={75} genes={deacetGenes} z={deacetZ} />
        <Heat left={235} top={540} h={38} genes={k27Genes} z={k27Z} />
        <div style={box(237, 606)}>
            <ScatterChart width={90} height={30} margin={{ top: 4, right: 4, bottom: 0, left: 4 }}>
                <XAxis
                    type="number"
                    dataKey="x"
                    domain={[-1.26, 1.39]}
                    ticks={scaleTicks}
                    interval={0}
                    axisLine={false}
                    tickLine={false}
                    tickSize={0}
                    tickMargin={0}
                    height={18}
                    tick={(p: any) => <T x={p.x} y={p.y + 9} size={9.5}>{p.payload.value}</T>}
                />
                <YAxis type="number" dataKey="y" domain={[0, 1]} hide />
                <Scatter data={zip(scaleTicks, scaleTicks.map(() => 0.5))} shape={() => <g />} isAnimationActive={false} />
                {scaleSteps.map((s) => (
                    <ReferenceArea key={s} x1={s} x2={Math.min(s + 0.1, 1.39)} y1={0} y2={1} fill={zColor(s + 0.05)} fillOpacity={1} stroke="none" />
                ))}
            </ScatterChart>
        </div>

        {/* panel D */}
        <div style={box(456, 496)}>
            <ScatterChart width={240} height={156} margin={{ top: 5, right: 4, bottom: 4, left: 0 }}>
                <CartesianGrid
                    stroke="#fff"
                    fill="#ececec"
                    strokeWidth={0.7}
                    verticalCoordinatesGenerator={() => dStripes}
                    horizontalValues={[1.5, 2, 2.5, 3, 3.5, 4]}
                />
                <XAxis
                    type="number"
                    dataKey="x"
                    domain={[0, 205.7]}
                    tick={false}
                    tickLine={false}
                    axisLine={false}
                    height={0}
                />
                <YAxis
                    type="number"
                    dataKey="y"
                    domain={[1.14, 4.42]}
                    ticks={[2, 3, 4]}
                    width={30}
                    axisLine={false}
                    tickSize={3}
                    stroke="#666"
                    tick={(p: any) => <T x={p.x - 7} y={p.y} size={14} rotate={-90}>{p.payload.value}</T>}
                />
                <ReferenceArea x1={0} x2={205.7} y1={1.14} y2={4.42} fill="none" stroke="#8a8a8a" strokeWidth={1} />
                {rraLeaders.map((s, i) => (
                    <ReferenceLine
                        key={i}
                        segment={[{ x: s[0], y: s[1] }, { x: s[2], y: s[3] }]}
                        stroke="#222"
                        strokeWidth={0.9}
                        strokeDasharray="2.5 1.5"
                    />
                ))}
                <Scatter
                    data={zip(rraRankLow, rraScoreLow)}
                    shape={(p: any) => <circle cx={p.cx} cy={p.cy} r={2.1} fill="#d8bcc8" stroke="#5a4a50" strokeWidth={0.6} />}
                    isAnimationActive={false}
                />
                <Scatter
                    data={zip(rraRankHigh, rraScoreHigh)}
                    shape={(p: any) => <circle cx={p.cx} cy={p.cy} r={2.2} fill="#c78ae8" stroke="#6a5a80" strokeWidth={0.5} />}
                    isAnimationActive={false}
                />
                <Scatter
                    data={zip(rraRankHit, rraScoreHit)}
                    shape={(p: any) => <circle cx={p.cx} cy={p.cy} r={1.9} fill="#c8141c" stroke="#801010" strokeWidth={0.4} />}
                    isAnimationActive={false}
                />
            </ScatterChart>
        </div>

        {/* panel E */}
        <div style={box(52, 685)}>
            <ScatterChart width={225} height={199} margin={{ top: 6, right: 6, bottom: 0, left: 0 }}>
                <CartesianGrid stroke="#efefef" verticalValues={[-3, -2, -1, 0, 1, 2]} horizontalValues={[-1, 0, 1, 2, 3, 4, 5]} />
                <XAxis
                    type="number"
                    dataKey="x"
                    domain={[-3.9, 2.8]}
                    ticks={[-2, 0, 2]}
                    height={40}
                    tickLine={false}
                    tickSize={0}
                    tickMargin={0}
                    stroke="#999"
                    tick={(p: any) => <T x={p.x} y={p.y + 9} size={12}>{p.payload.value}</T>}
                />
                <YAxis
                    type="number"
                    dataKey="y"
                    domain={[-2.03, 5.59]}
                    ticks={[-2, 0, 2, 4]}
                    width={40}
                    tickLine={false}
                    tickSize={0}
                    tickMargin={0}
                    stroke="#999"
                    interval={0}
                    tick={(p: any) => <T x={p.x - 6} y={p.y} size={12} anchor="end">{p.payload.value}</T>}
                />
                <ReferenceLine x={2.8} stroke="#c4c4c4" strokeWidth={2} />
                <ReferenceLine y={5.59} stroke="#d8d8d8" />
                <Scatter
                    data={zip(hpscHullX, hpscHullY)}
                    line={{ stroke: '#a2c488', fill: '#e1edd2', strokeWidth: 0.9 }}
                    shape={() => <g />}
                    isAnimationActive={false}
                />
                <Scatter
                    data={zip(ecHullX, ecHullY)}
                    line={{ stroke: '#e2b488', fill: '#f6e3d0', strokeWidth: 0.9 }}
                    shape={() => <g />}
                    isAnimationActive={false}
                />
                <Scatter
                    data={zip(meHullX, meHullY)}
                    line={{ stroke: '#92b2de', fill: '#dfe5f4', strokeWidth: 0.9 }}
                    shape={() => <g />}
                    isAnimationActive={false}
                />
                <Scatter
                    data={zip(grayDim1, grayDim2)}
                    shape={(p: any) => <circle cx={p.cx} cy={p.cy} r={1} fill="#a8a8a8" />}
                    isAnimationActive={false}
                />
                <Scatter
                    data={zip(redDim1, redDim2)}
                    shape={(p: any) => <circle cx={p.cx} cy={p.cy} r={1.15} fill="#d8262e" />}
                    isAnimationActive={false}
                />
            </ScatterChart>
        </div>

        {/* panel F */}
        <TfBars left={403} top={689} w={130} h={138} names={ecTfNames} values={ecTfValues} fill="#efc894" stroke="#e3a65c" barSize={12.5} />
        <TfBars left={562} top={689} w={170} h={179} names={meTfNames} values={meTfValues} fill="#93b2f6" stroke="#7296f0" barSize={13.5} />

        {/* free text, legends and frames */}
        <svg width={736} height={899} style={{ position: 'absolute', left: 0, top: 0, pointerEvents: 'none' }}>
            <T x={3} y={10} size={16} weight="bold" anchor="start" fill="#000">A</T>
            <T x={459} y={10} size={16} weight="bold" anchor="start" fill="#000">B</T>
            <T x={3} y={497} size={16} weight="bold" anchor="start" fill="#000">C</T>
            <T x={428} y={497} size={16} weight="bold" anchor="start" fill="#000">D</T>
            <T x={3} y={671} size={16} weight="bold" anchor="start" fill="#000">E</T>
            <T x={380} y={671} size={16} weight="bold" anchor="start" fill="#000">F</T>
            <T x={76} y={669}>.</T>

            <T x={119} y={16} size={14.5}>(De-)/Acetylation</T>
            <T x={375} y={16} size={14.5}>(De-)/Methylation</T>
            <T x={127} y={282} size={14.5}>Remodeling</T>
            <T x={371} y={282} size={14.5}>Other</T>
            <T x={257} y={240} size={15.8}>Epigenetic Regulation</T>

            <T x={556} y={18} size={14.5} fill="#2b2bf0">Me&amp;En</T>
            <T x={640} y={18} size={14} fill="#c8202c">nEc</T>
            <line x1={512} x2={525} y1={33} y2={33} stroke={pscL} strokeWidth={1.2} />
            <line x1={512} x2={525} y1={47} y2={47} stroke={meL} strokeWidth={1.2} />
            <line x1={512} x2={525} y1={61} y2={61} stroke={necL} strokeWidth={1.2} />
            <line x1={608} x2={621} y1={33} y2={33} stroke={pscR} strokeWidth={1.2} />
            <line x1={608} x2={621} y1={47} y2={47} stroke={meR} strokeWidth={1.2} />
            <line x1={608} x2={621} y1={61} y2={61} stroke={necR} strokeWidth={1.2} />
            <T x={528} y={33} size={11} anchor="start">-hPSC Genes</T>
            <T x={528} y={47} size={11} anchor="start">-Me&amp;En Genes</T>
            <T x={528} y={61} size={11} anchor="start">-nEc Genes</T>
            <T x={624} y={33} size={11} anchor="start">-hPSC Genes</T>
            <T x={624} y={47} size={11} anchor="start">-Me&amp;En Genes</T>
            <T x={624} y={61} size={11} anchor="start">-nEc Genes</T>
            {profileRows.map((row) => (
                <T key={row.name} x={481} y={row.labelY} size={11.3} rotate={-90}>{row.name}</T>
            ))}
            <T x={518} y={428} size={10.4}>-2kb TSS</T>
            <T x={576} y={428} size={10.4}>TES 2kb</T>
            <T x={619} y={428} size={10.4}>-2kb TSS</T>
            <T x={673} y={428} size={10.4}>TES 2kb</T>

            <T x={137} y={531} size={11.9}>Deacetylation</T>
            <T x={286} y={531} size={11.9}>H3K27me3</T>
            <rect x={87} y={539} width={96} height={75} fill="none" stroke="#6a6a5a" strokeWidth={0.6} />
            <rect x={235} y={540} width={96} height={38} fill="none" stroke="#8a8a6a" strokeWidth={0.5} />
            <T x={279} y={640} size={11.9}>z-score</T>

            <T x={458} y={570} size={15.6} rotate={-90}>-Log(RRA Score)</T>
            <T x={505} y={509} size={11.5} anchor="start" fill="#cc2222">hsa-mir-5004</T>
            <T x={507} y={519.5} size={11.5} anchor="start" fill="#cc2222">hsa-mir-4436a</T>
            <T x={513} y={532} size={11.5} anchor="start" fill="#cc2222">hsa-mir-597</T>
            <T x={519} y={544} size={11.5} anchor="start" fill="#cc2222">hsa-mir-664a</T>
            <T x={521} y={556} size={11.5} anchor="start" fill="#cc2222">hsa-mir-3</T>
            <T x={551} y={578} size={11.5} anchor="start" fill="#cc2222">hsa-mir-302e/b</T>
            <T x={639} y={511} size={12}>RRA Score</T>
            <circle cx={622} cy={525} r={2.8} fill="#c987b2" stroke="#777" strokeWidth={0.6} />
            <circle cx={622} cy={543} r={2.8} fill="#dcc6d0" stroke="#777" strokeWidth={0.6} />
            <T x={628} y={526} size={11.6} anchor="start">{'<=0.01'}</T>
            <T x={628} y={543.5} size={11.6} anchor="start">{'<=0.05'}</T>

            <T x={181} y={868} size={14.5}>Dim 1 (42.5%)</T>
            <T x={67} y={773} size={14.5} rotate={-90}>Dim 2 (42.5%)</T>
            <rect x={279.5} y={763.5} width={12} height={11} fill="#e1edd2" stroke="#a2c488" />
            <rect x={279.5} y={779.5} width={12} height={11} fill="#f6e3d0" stroke="#e2b488" />
            <rect x={279.5} y={795} width={12} height={11} fill="#dfe5f4" stroke="#92b2de" />
            <circle cx={286.5} cy={819} r={2} fill="#d8262e" />
            <T x={295} y={768.5} size={11.8} anchor="start">hPSC</T>
            <T x={295} y={785} size={11.8} anchor="start">Ec</T>
            <T x={295} y={802} size={11.8} anchor="start">Me&amp;En</T>
            <T x={295} y={819} size={11.8} anchor="start">LPGs miRNAs</T>

            <T x={393} y={760} size={12.2} rotate={-90}>Ec miRNAs</T>
            <T x={554} y={772} size={12.2} rotate={-90}>Me&amp;En miRNAs</T>
            <T x={465} y={852} size={12.3}>-Log (P-Value)</T>
            <T x={649} y={891} size={12.3}>-Log (P-Value)</T>
        </svg>
    </div>
);

export default App;
